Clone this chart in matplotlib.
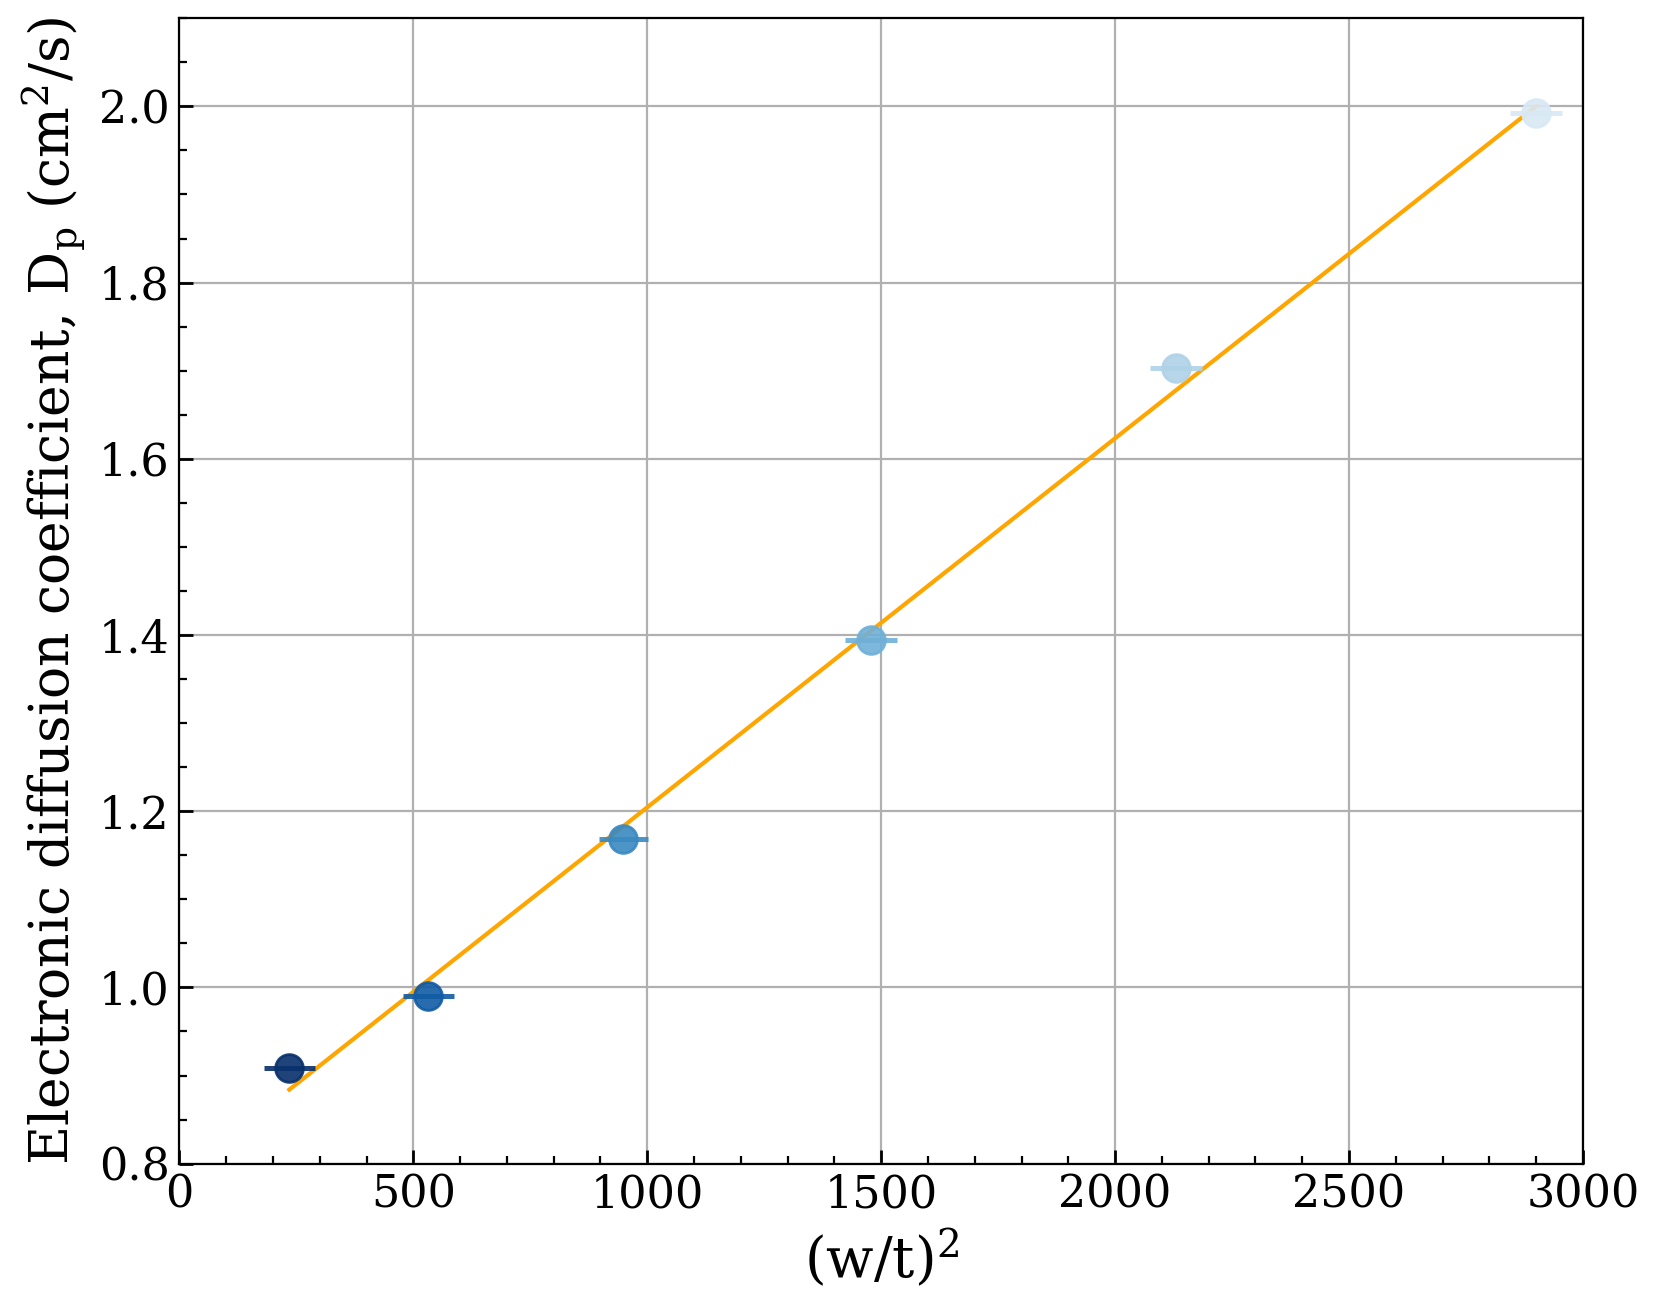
import numpy as np
import matplotlib
matplotlib.use("Agg")
import matplotlib.pyplot as plt
from matplotlib.ticker import MultipleLocator

# (w/t)^2 and measured diffusion coefficients
wt2 = [235, 532, 949, 1478, 2130, 2900]
dp = [0.909, 0.990, 1.169, 1.394, 1.703, 1.993]
wt2_err = [55, 55, 52, 55, 55, 55]

plt.rcParams['font.family'] = 'DejaVu Serif'
plt.rcParams['mathtext.fontset'] = 'dejavuserif'

fig = plt.figure(figsize=(8.305, 6.53), dpi=200)
ax = fig.add_axes([0.108, 0.109, 0.845, 0.877])

colors = plt.cm.Blues(np.linspace(1.0, 0.15, len(wt2)))
for x, y, xe, c in zip(wt2, dp, wt2_err, colors):
    ax.errorbar(x, y, xerr=xe, fmt='o', color=c, ms=10, elinewidth=1.8,
                alpha=0.9, zorder=3)

# linear fit through the points
k, b = np.polyfit(wt2, dp, 1)
xf = np.array([wt2[0], wt2[-1]])
ax.plot(xf, k * xf + b, color='orange', lw=1.5, zorder=2.5)

ax.set_xlim(0, 3000)
ax.set_ylim(0.8, 2.1)
ax.xaxis.set_major_locator(MultipleLocator(500))
ax.xaxis.set_minor_locator(MultipleLocator(100))
ax.yaxis.set_major_locator(MultipleLocator(0.2))
ax.yaxis.set_minor_locator(MultipleLocator(0.05))
ax.tick_params(which='both', direction='in', labelsize=16)
ax.tick_params(which='major', length=5, width=1)
ax.tick_params(which='minor', length=3, width=0.8)
ax.grid(True, which='major', color='#b0b0b0', lw=0.8)
ax.set_axisbelow(True)

ax.set_xlabel(r'(w/t)$^2$', fontsize=20)
ax.set_ylabel(r'Electronic diffusion coefficient, D$_\mathrm{p}$ (cm$^2$/s)', fontsize=19.3)

fig.savefig('out.png', dpi=200)
